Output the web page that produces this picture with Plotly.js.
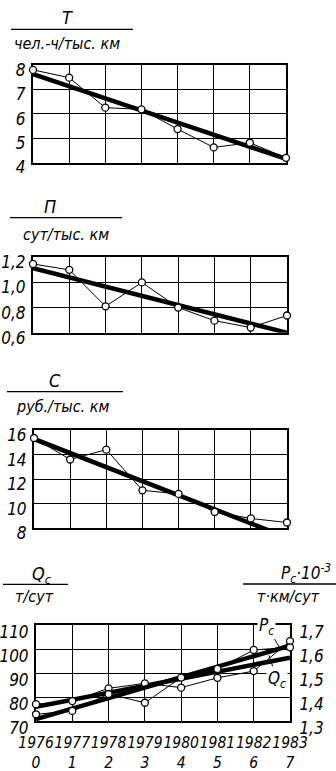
<!DOCTYPE html>
<html><head><meta charset="utf-8">
<script src="https://cdn.plot.ly/plotly-3.0.1.min.js"></script>
<style>html,body{margin:0;padding:0;background:#fff;}#chart{width:336px;height:771px;}</style>
</head><body><div id="chart"></div>
<script>
// ---- data ----
const xIdx = [0, 1, 2, 3, 4, 5, 6, 7];
const years = ['1976', '1977', '1978', '1979', '1980', '1981', '1982', '1983'];
const trendX = [0, 7];

const T = [7.8, 7.48, 6.25, 6.18, 5.37, 4.62, 4.81, 4.19];
const T_trend = [7.63, 4.15];

const P = [1.147, 1.10, 0.81, 1.0, 0.80, 0.696, 0.641, 0.737];
const P_trend = [1.113, 0.60];

const C = [15.35, 13.6, 14.4, 11.09, 10.8, 9.33, 8.8, 8.47];
const C_trend = [15.27, 7.25];

const Qc = [77.0, 78.3, 83.6, 85.7, 83.9, 88.0, 90.8, 103.3];
const Qc_trend = [75.9, 96.4];

const Pc = [1.328, 1.342, 1.4125, 1.376, 1.481, 1.517, 1.596, 1.607];
const Pc_trend = [1.308, 1.614];

const tickT = [4, 5, 6, 7, 8], tickTtxt = ['4', '5', '6', '7', '8'];
const tickP = [0.6, 0.8, 1.0, 1.2], tickPtxt = ['0,6', '0,8', '1,0', '1,2'];
const tickC = [8, 10, 12, 14, 16], tickCtxt = ['8', '10', '12', '14', '16'];
const tickQ = [70, 80, 90, 100, 110], tickQtxt = ['70', '80', '90', '100', '110'];
const tickR = [1.3, 1.4, 1.5, 1.6, 1.7], tickRtxt = ['1,3', '1,4', '1,5', '1,6', '1,7'];

// ---- layout helpers ----
const W = 336, H = 771;
const py = p => 1 - p / H;
const px = p => p / W;
const FONT = "'Liberation Sans Narrow', 'DejaVu Sans Condensed', 'Liberation Sans', sans-serif";
const tf = {family: FONT, size: 17, color: '#000', style: 'italic'};

function rawTrace(y, xa, ya) {
  return {x: xIdx, y: y, xaxis: xa, yaxis: ya, type: 'scatter', mode: 'lines+markers',
    line: {color: '#000', width: 1}, cliponaxis: false,
    marker: {symbol: 'circle', size: 7, color: '#fff', line: {color: '#000', width: 1.3}},
    showlegend: false, hoverinfo: 'skip'};
}
function trendTrace(y, xa, ya) {
  return {x: trendX, y: y, xaxis: xa, yaxis: ya, type: 'scatter', mode: 'lines',
    line: {color: '#000', width: 4.5}, cliponaxis: true, showlegend: false, hoverinfo: 'skip'};
}
const data = [
  trendTrace(T_trend, 'x', 'y'), rawTrace(T, 'x', 'y'),
  trendTrace(P_trend, 'x2', 'y2'), rawTrace(P, 'x2', 'y2'),
  trendTrace(C_trend, 'x3', 'y3'), rawTrace(C, 'x3', 'y3'),
  trendTrace(Qc_trend, 'x4', 'y4'), rawTrace(Qc, 'x4', 'y4'),
  trendTrace(Pc_trend, 'x4', 'y5'), rawTrace(Pc, 'x4', 'y5')
];

function xax(l, r, anchor, labels) {
  const a = {domain: [px(l), px(r)], range: [0, 7], anchor: anchor, tickvals: xIdx,
    showgrid: true, gridcolor: '#000', gridwidth: 1, zeroline: false,
    showline: true, mirror: true, linecolor: '#000', linewidth: 2, ticks: '',
    layer: 'below traces', fixedrange: true, showticklabels: false, tickfont: tf, tickangle: 0};
  if (labels) {
    a.showticklabels = true; a.ticktext = labels; a.ticklabelstandoff = 6;
    a.tickfont = {family: FONT, size: 15.5, color: '#000', style: 'italic'};
  }
  return a;
}
function yax(top, bot, range, tv, tt, anchor) {
  return {domain: [py(bot), py(top)], range: range, anchor: anchor, tickvals: tv, ticktext: tt,
    showgrid: true, gridcolor: '#000', gridwidth: 1, zeroline: false,
    showline: true, mirror: true, linecolor: '#000', linewidth: 2, ticks: '',
    ticklabelshift: 5, ticklabelstandoff: 2,
    layer: 'below traces', fixedrange: true, tickfont: tf};
}

const xLabels = years.map((y, i) => y + '<br>' + xIdx[i]);

function txt(x, y, s, size) {
  return {xref: 'paper', yref: 'paper', x: px(x), y: py(y), text: s, showarrow: false,
    xanchor: 'center', yanchor: 'middle', font: {family: FONT, size: size || 16, color: '#000', style: 'italic'}};
}
function hline(x0, x1, y) {
  return {type: 'line', xref: 'paper', yref: 'paper', x0: px(x0), x1: px(x1), y0: py(y), y1: py(y),
    line: {color: '#000', width: 1.3}};
}

const layout = {
  width: W, height: H, margin: {l: 0, r: 0, t: 0, b: 0},
  paper_bgcolor: '#fff', plot_bgcolor: '#fff', showlegend: false,
  font: tf,
  xaxis: xax(33, 286, 'y'),
  yaxis: yax(65, 162.5, [4, 8], tickT, tickTtxt, 'x'),
  xaxis2: xax(33, 287, 'y2'),
  yaxis2: yax(257.3, 332.7, [0.6, 1.2], tickP, tickPtxt, 'x2'),
  xaxis3: xax(34, 287, 'y3'),
  yaxis3: yax(430, 528.3, [8, 16], tickC, tickCtxt, 'x3'),
  xaxis4: xax(36, 290, 'y4', xLabels),
  yaxis4: Object.assign(yax(625, 721, [70, 110], tickQ, tickQtxt, 'x4'), {ticklabelshift: 7}),
  yaxis5: Object.assign(yax(625, 721, [1.3, 1.7], tickR, tickRtxt, 'x4'),
    {overlaying: 'y4', side: 'right', showgrid: false, ticklabelstandoff: 4, ticklabelshift: 7}),
  annotations: [
    txt(67, 17, 'T', 18), txt(67, 43, 'чел.-ч/тыс. км'),
    txt(50, 207, 'П', 18), txt(66, 234, 'сут/тыс. км'),
    txt(55, 380, 'С', 18), txt(62, 406, 'руб./тыс. км'),
    txt(42, 575, 'Q<sub>c</sub>', 18), txt(34, 596, 'т/сут'),
    txt(306, 573, 'P<sub>c</sub>·10<sup>-3</sup>', 17), txt(288, 596, 'т·км/сут'),
    {xref: 'x4', yref: 'y5', x: 6.72, y: 1.604, ax: -13, ay: -22, text: 'P<sub>c</sub>',
      showarrow: true, arrowhead: 0, arrowwidth: 1, arrowcolor: '#000', bgcolor: '#fff',
      font: {family: FONT, size: 17, color: '#000', style: 'italic'}},
    {xref: 'x4', yref: 'y5', x: 6.42, y: 1.574, ax: 8, ay: 24, text: 'Q<sub>c</sub>',
      showarrow: true, arrowhead: 0, arrowwidth: 1, arrowcolor: '#000', bgcolor: '#fff',
      font: {family: FONT, size: 17, color: '#000', style: 'italic'}}
  ],
  shapes: [hline(11, 133, 29.3), hline(10, 122, 217.7), hline(7, 123, 391.7),
           hline(3, 68, 584.3), hline(243, 336, 584)]
};

Plotly.newPlot('chart', data, layout, {staticPlot: true});
</script>
</body></html>
